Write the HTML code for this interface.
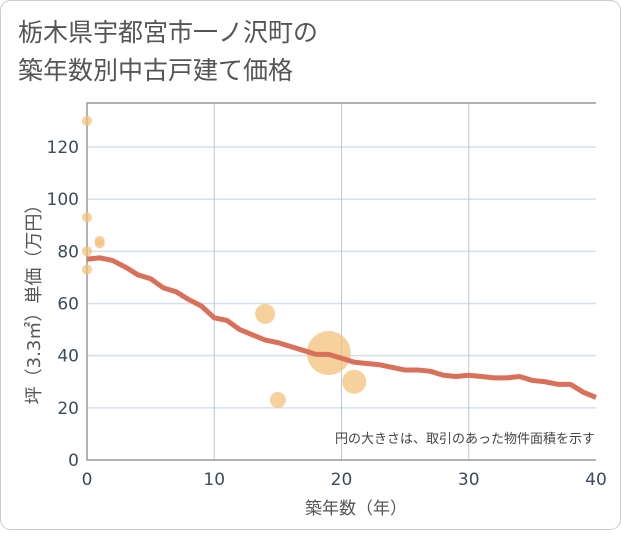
<!DOCTYPE html>
<html><head><meta charset="utf-8"><style>
body{margin:0;background:#fff;}
#wrap{width:621px;height:530px;position:relative;font-family:"DejaVu Sans","Noto Sans CJK JP",sans-serif;}
</style></head><body>
<div id="wrap">
<svg id="chart" width="621" height="530" xmlns="http://www.w3.org/2000/svg">
<rect x="0.5" y="0.5" width="620" height="529" rx="10" fill="#fff" stroke="#ccc"/>
<text x="18" y="41" font-size="25" fill="#555">栃木県宇都宮市一ノ沢町の</text>
<text x="18" y="79" font-size="25" fill="#555">築年数別中古戸建て価格</text>
<g id="grid"></g>
<g id="marks"></g>
<text x="595" y="443" font-size="13" fill="#444" text-anchor="end">円の大きさは、取引のあった物件面積を示す</text>
<text x="356" y="514" font-size="17" fill="#555" text-anchor="middle">築年数（年）</text>
<text transform="translate(40,300) rotate(-90)" font-size="18" fill="#555" text-anchor="middle">坪（3.3㎡）単価（万円）</text>
</svg>
</div>
<script>
const xTicks=[0,10,20,30,40];
const yTicks=[0,20,40,60,80,100,120];
const lineYears=[0,1,2,3,4,5,6,7,8,9,10,11,12,13,14,15,16,17,18,19,20,21,22,23,24,25,26,27,28,29,30,31,32,33,34,35,36,37,38,39,40];
const linePrices=[77,77.5,76.5,74,71,69.5,66,64.5,61.5,59,54.5,53.5,50,48,46,45,43.5,42,40.5,40.5,39,37.5,37,36.5,35.5,34.5,34.5,34,32.5,32,32.5,32,31.5,31.5,32,30.5,30,29,29,26,24];
const bubbleYears=[0,0,0,0,1,1,14,15,19,21];
const bubblePrices=[130,93,80,73,84,83,56,23,41,30];
const bubbleSizes=[5,5,5,5,5,5,10,8,22,12];
const X0=87,X1=596,Y0=460,Y1=103;
const xs=v=>X0+(v-0)/40*(X1-X0);
const ys=v=>Y0-v/120*(Y0-147);
const NS="http://www.w3.org/2000/svg";
const grid=document.getElementById('grid'),marks=document.getElementById('marks');
function mk(tag,attrs,parent){const e=document.createElementNS(NS,tag);for(const k in attrs)e.setAttribute(k,attrs[k]);parent.appendChild(e);return e;}
const bg=mk('rect',{x:X0,y:Y1,width:X1-X0,height:Y0-Y1,fill:'#fff'},grid);


yTicks.forEach(t=>{
  if(t>0){const l=mk('line',{x1:X0,x2:X1,y1:ys(t),y2:ys(t),stroke:'#d5e0ea','stroke-width':1.5},grid);
  
  }
  const tx=mk('text',{x:X0-8,y:ys(t)+6,'font-size':17,fill:'#3d4b5a','text-anchor':'end'},grid);
  tx.textContent=t;
  
  
});
xTicks.forEach(t=>{
  if(t>0&&t<40){const l=mk('line',{x1:xs(t),x2:xs(t),y1:Y1,y2:Y0,stroke:'#bcc8d4','stroke-width':1},grid);
  
  }
  const tx=mk('text',{x:xs(t),y:Y0+25,'font-size':17,fill:'#3d4b5a','text-anchor':'middle'},grid);
  tx.textContent=t;
  
  
});
const ax=mk('path',{d:`M${X1},${Y1}H${X0}V${Y0}H${X1}`,fill:'none',stroke:'#999','stroke-width':1.5},grid);


bubbleYears.forEach((y,i)=>{
  const c=mk('circle',{cx:xs(y),cy:ys(bubblePrices[i]),r:bubbleSizes[i],fill:'#f3c27a','fill-opacity':0.75},marks);
  
  
});
const p=mk('polyline',{points:lineYears.map((y,i)=>xs(y)+','+ys(linePrices[i])).join(' '),fill:'none',stroke:'#d9705a','stroke-width':5,'stroke-linejoin':'round'},marks);


</script>
</body></html>
